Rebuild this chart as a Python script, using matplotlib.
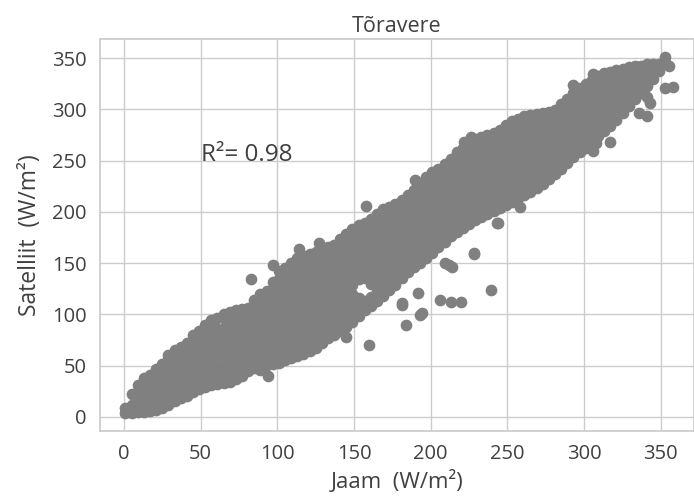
import matplotlib
matplotlib.use("Agg")
import matplotlib.pyplot as plt
import seaborn as sns

# Station (Jaam) vs satellite (Satelliit) irradiance, W/m2.
# Dense band: each station value has a column of satellite values.
jaam_a = [1, 5, 9, 13, 17, 21, 25, 29, 33, 37, 41, 45, 49, 53, 57, 61, 65, 69,
          73, 77, 81, 85, 89, 93, 97, 101, 105, 109, 113, 117, 121, 125]
sat_a = [
    [4, 9], [4, 12, 22], [5, 14, 24, 31], [5, 13, 22, 31, 38],
    [6, 14, 23, 32, 41], [7, 15, 24, 33, 42, 47], [9, 17, 26, 35, 44, 52],
    [12, 20, 29, 38, 47, 56, 60], [15, 23, 32, 41, 50, 58, 65],
    [18, 26, 35, 44, 53, 61, 68], [20, 29, 38, 47, 56, 64, 72],
    [24, 32, 41, 50, 59, 67, 75, 80], [27, 35, 44, 53, 62, 70, 78, 84],
    [29, 38, 47, 56, 65, 73, 81, 90], [31, 40, 49, 58, 67, 76, 85, 94],
    [32, 41, 50, 59, 68, 77, 86, 96], [33, 42, 51, 60, 69, 78, 87, 96, 100],
    [34, 43, 52, 61, 70, 79, 88, 96, 102], [37, 46, 55, 64, 73, 82, 91, 99, 104],
    [40, 49, 58, 67, 76, 85, 94, 102, 105], [45, 53, 62, 71, 80, 89, 98, 106],
    [48, 56, 65, 74, 83, 92, 101, 110, 114], [50, 59, 68, 77, 86, 95, 104, 113, 120],
    [51, 60, 69, 78, 87, 96, 105, 114, 123],
    [52, 61, 70, 79, 88, 97, 106, 115, 124, 132],
    [53, 62, 71, 80, 89, 98, 107, 116, 125, 134, 142],
    [55, 64, 73, 82, 91, 100, 109, 118, 127, 136, 145],
    [57, 66, 75, 84, 93, 102, 111, 120, 129, 138, 147, 150],
    [59, 68, 77, 86, 95, 104, 113, 122, 131, 140, 149, 155],
    [61, 70, 79, 88, 97, 106, 115, 124, 133, 142, 151, 157],
    [64, 73, 82, 91, 100, 109, 118, 127, 136, 145, 154, 159],
    [67, 76, 85, 94, 103, 112, 121, 130, 139, 148, 157, 161],
]

jaam_b = [129, 133, 137, 141, 145, 149, 153, 157, 161, 165, 169, 173, 177, 181,
          185, 189, 193, 197, 201, 205, 209, 213, 217, 221, 225]
sat_b = [
    [72, 81, 90, 99, 108, 117, 126, 135, 144, 153, 162],
    [77, 86, 95, 104, 113, 122, 131, 140, 149, 158, 166],
    [80, 89, 98, 107, 116, 125, 134, 143, 152, 161, 168],
    [84, 93, 102, 111, 120, 129, 138, 147, 156, 165, 173],
    [88, 97, 106, 115, 124, 133, 142, 151, 160, 169, 178],
    [93, 102, 111, 120, 129, 138, 147, 156, 165, 174, 183],
    [98, 107, 116, 134, 143, 152, 161, 170, 179, 187],
    [104, 113, 135, 144, 153, 162, 171, 180, 189],
    [108, 117, 130, 139, 148, 157, 166, 175, 184, 193],
    [113, 122, 131, 140, 149, 158, 167, 176, 185, 194, 198],
    [118, 127, 136, 145, 154, 163, 172, 181, 190, 199, 203],
    [124, 133, 142, 151, 160, 169, 178, 187, 196, 205],
    [129, 138, 147, 156, 165, 174, 183, 192, 201, 208],
    [135, 144, 153, 162, 171, 180, 189, 198, 207, 212],
    [141, 150, 159, 168, 177, 186, 195, 204, 213, 216],
    [146, 155, 164, 173, 182, 191, 200, 209, 218, 221],
    [150, 159, 168, 177, 186, 195, 204, 213, 222, 228],
    [155, 164, 173, 182, 191, 200, 209, 218, 227, 234],
    [160, 169, 178, 187, 196, 205, 214, 223, 232, 239],
    [166, 175, 184, 193, 202, 211, 220, 229, 238, 242],
    [171, 180, 189, 198, 207, 216, 225, 234, 243, 247],
    [176, 185, 194, 203, 212, 221, 230, 239, 248, 252],
    [180, 189, 198, 207, 216, 225, 234, 243, 252, 258],
    [184, 193, 202, 211, 220, 229, 238, 247, 256, 262],
    [188, 197, 206, 215, 224, 233, 242, 251, 260, 267],
]

jaam_c = [229, 233, 237, 241, 245, 249, 253, 257, 261, 265, 269, 273, 277, 281,
          285, 289, 293, 297, 301, 305, 309, 313, 317, 321, 325, 329, 333, 337,
          341, 345, 349, 353]
sat_c = [
    [192, 201, 210, 219, 228, 237, 246, 255, 264, 271],
    [195, 204, 213, 222, 231, 240, 249, 258, 267, 273],
    [198, 207, 216, 225, 234, 243, 252, 261, 270, 275],
    [201, 210, 219, 228, 237, 246, 255, 264, 273, 277],
    [204, 213, 222, 231, 240, 249, 258, 267, 276, 280],
    [207, 216, 225, 234, 243, 252, 261, 270, 279, 285],
    [210, 219, 228, 237, 246, 255, 264, 273, 282, 289],
    [213, 222, 231, 240, 249, 258, 267, 276, 285, 291],
    [216, 225, 234, 243, 252, 261, 270, 279, 288, 293],
    [219, 228, 237, 246, 255, 264, 273, 282, 291, 294],
    [223, 232, 241, 250, 259, 268, 277, 286, 295],
    [227, 236, 245, 254, 263, 272, 281, 290, 296],
    [232, 241, 250, 259, 268, 277, 286, 295, 297],
    [237, 246, 255, 264, 273, 282, 291, 299],
    [242, 251, 260, 269, 278, 287, 296, 305],
    [248, 257, 266, 275, 284, 293, 302, 310],
    [253, 262, 271, 280, 289, 298, 307, 316],
    [258, 267, 276, 285, 294, 303, 312, 321],
    [262, 271, 280, 289, 298, 307, 316, 325],
    [268, 277, 286, 295, 304, 313, 322, 329],
    [274, 283, 292, 301, 310, 319, 328, 332],
    [279, 288, 297, 306, 315, 324, 333, 335],
    [284, 293, 302, 311, 320, 329, 336],
    [290, 299, 308, 317, 326, 335, 338],
    [296, 305, 314, 323, 332, 339],
    [303, 312, 321, 330, 339, 341],
    [310, 319, 328, 337, 342],
    [316, 325, 334, 342],
    [323, 332, 340, 344],
    [330, 338, 344],
    [337, 344],
    [346],
]

# scattered points outside the band
jaam_out = [83, 97, 114, 127, 158, 160, 145, 190, 226, 222, 192, 206, 213, 220,
            239, 228, 181, 194, 212, 243, 184, 193, 181, 209, 214, 228, 293, 306,
            306, 258, 266, 353, 355, 353, 358, 341, 343, 336, 341, 317, 308, 94,
            89, 244]
sat_out = [134, 148, 164, 170, 206, 70, 78, 231, 273, 268, 121, 114, 112, 112,
           124, 160, 111, 101, 148, 189, 90, 99, 109, 150, 146, 159, 324, 334,
           259, 205, 223, 351, 342, 321, 322, 312, 306, 296, 293, 268, 267, 40,
           46, 189]

r2_text = "R²= 0.98"

jaam, satelliit = [], []
for cols, sats in [(jaam_a, sat_a), (jaam_b, sat_b), (jaam_c, sat_c)]:
    for xv, ys in zip(cols, sats):
        jaam += [xv] * len(ys)
        satelliit += ys
jaam += jaam_out
satelliit += sat_out

sns.set_theme(style="whitegrid")
plt.rcParams["font.family"] = ["Open Sans", "DejaVu Sans"]

fig = plt.figure(figsize=(6.94, 4.97), dpi=100)
ax = fig.add_axes([0.144, 0.133, 0.856, 0.789])

ax.scatter(jaam, satelliit, s=55, color="grey", zorder=3)
ax.text(50, 250, r2_text, fontsize=17.5, color="0.25")

ax.set_xlim(-15.6, 371.6)
ax.set_ylim(-13.7, 368.8)
ax.set_xticks(range(0, 351, 50))
ax.set_yticks(range(0, 351, 50))
ax.tick_params(labelsize=14.5, colors="0.25")
ax.set_title("Tõravere", fontsize=15.5, color="0.25", pad=5)
ax.set_xlabel("Jaam  (W/m²)", fontsize=16, color="0.25", labelpad=4)
ax.set_ylabel("Satelliit  (W/m²)", fontsize=16.5, color="0.25", labelpad=7)

fig.savefig("out.png", dpi=100)
